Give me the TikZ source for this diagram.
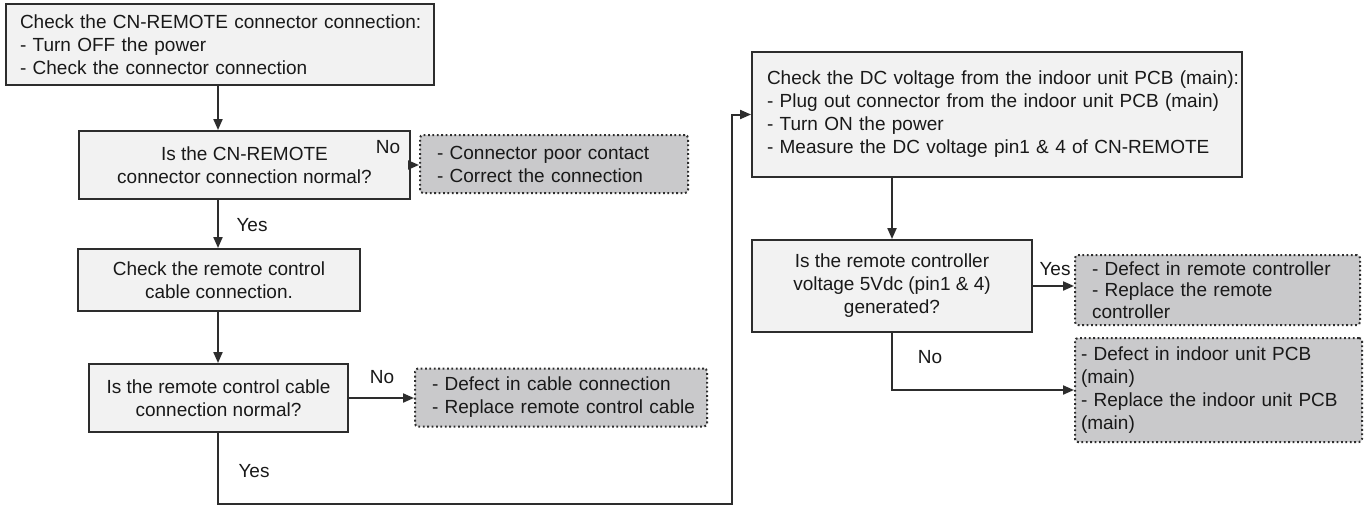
\documentclass[tikz,border=0pt]{standalone}
\usepackage{fontspec}
\setmainfont{Liberation Sans}
\usetikzlibrary{arrows.meta}
\definecolor{linec}{RGB}{45,45,45}
\definecolor{boxfill}{RGB}{242,242,242}
\definecolor{notefill}{RGB}{201,201,203}
\definecolor{txt}{RGB}{25,25,25}
\newcommand\fs{\fontsize{19}{23}\selectfont}
\newcommand\fsi{\fontsize{19}{21.5}\selectfont}
\tikzset{
  box/.style={draw=linec, fill=boxfill, line width=1.9pt, inner sep=0pt, font=\fs, text=txt},
  note/.style={draw=linec, fill=notefill, line width=2pt, dash pattern=on 1.8pt off 2.6pt, rounded corners=3pt, inner sep=0pt, font=\fs, text=txt},
  arr/.style={draw=linec, line width=2pt, -{Triangle[length=11pt,width=9pt]}},
  lbl/.style={font=\fs, inner sep=0pt, text=txt}
}
\begin{document}
\begin{tikzpicture}[x=1pt,y=-1pt]
\useasboundingbox (0,0) rectangle (1365,506);
\fill[white] (0,0) rectangle (1365,506);
\coordinate (sp) at (218,0);
% left column
\node[box, minimum width=428pt, minimum height=81pt, text width=400pt, inner xsep=14pt, align=left] (A) at (220,44.5)
  {\mbox{Check the CN-REMOTE connector connection:}\\\mbox{- Turn OFF the power}\\\mbox{- Check the connector connection}};
\node[box, minimum width=331pt, minimum height=68pt, align=center] (B) at (244.5,165)
  {Is the CN-REMOTE\\connector connection normal?};
\node[note, minimum width=268pt, minimum height=58pt, text width=234pt, inner xsep=17pt, align=left] (C) at (554,164)
  {\mbox{- Connector poor contact}\\\mbox{- Correct the connection}};
\node[box, minimum width=282pt, minimum height=62pt, align=center] (D) at (219,280)
  {Check the remote control\\cable connection.};
\node[box, minimum width=259pt, minimum height=68pt, align=center] (E) at (218.5,398)
  {Is the remote control cable\\connection normal?};
\node[note, minimum width=292pt, minimum height=58pt, text width=258pt, inner xsep=17pt, align=left] (F) at (561,397.5)
  {\mbox{- Defect in cable connection}\\\mbox{- Replace remote control cable}};
% right column
\node[box, minimum width=490pt, minimum height=125pt, text width=460pt, inner xsep=15pt, align=left] (G) at (997,114.5)
  {\mbox{Check the DC voltage from the indoor unit PCB (main):}\\\mbox{- Plug out connector from the indoor unit PCB (main)}\\\mbox{- Turn ON the power}\\\mbox{- Measure the DC voltage pin1 \& 4 of CN-REMOTE}};
\node[box, minimum width=280pt, minimum height=92pt, align=center] (H) at (892,286)
  {Is the remote controller\\voltage 5Vdc (pin1 \& 4)\\generated?};
\node[note, minimum width=285pt, minimum height=70pt, text width=251pt, inner xsep=17pt, align=left, font=\fsi] (I) at (1217.5,290)
  {\mbox{- Defect in remote controller}\\\mbox{- Replace the remote}\\\mbox{controller}};
\node[note, minimum width=287pt, minimum height=104pt, text width=275pt, inner xsep=6pt, align=left] (J) at (1218.5,390)
  {\mbox{- Defect in indoor unit PCB}\\\mbox{(main)}\\\mbox{- Replace the indoor unit PCB}\\\mbox{(main)}};
% connectors
\coordinate (lb) at (732,504);
\draw[arr] (A.south -| sp) -- (B.north -| sp);
\draw[arr] (B.east) -- (B.east -| C.west);
\draw[arr] (B.south -| sp) -- (D.north -| sp);
\draw[arr] (D.south -| sp) -- (E.north -| sp);
\draw[arr] (E.east) -- (E.east -| F.west);
\draw[arr] (E.south -| sp) |- (lb) |- (G.west);
\draw[arr] (G.south -| H.north) -- (H.north);
\draw[arr] (H.east) -- (H.east -| I.west);
\draw[arr] (H.south) |- (J.west);
% labels
\node[lbl] (no1) at (388,147) {No};
\node[lbl] (yes1) at (252,225) {Yes};
\node[lbl] (no2) at (382,377) {No};
\node[lbl] (yes2) at (254,471) {Yes};
\node[lbl] (yes3) at (1055,269) {Yes};
\node[lbl] (no3) at (930,357) {No};
\end{tikzpicture}
\end{document}
